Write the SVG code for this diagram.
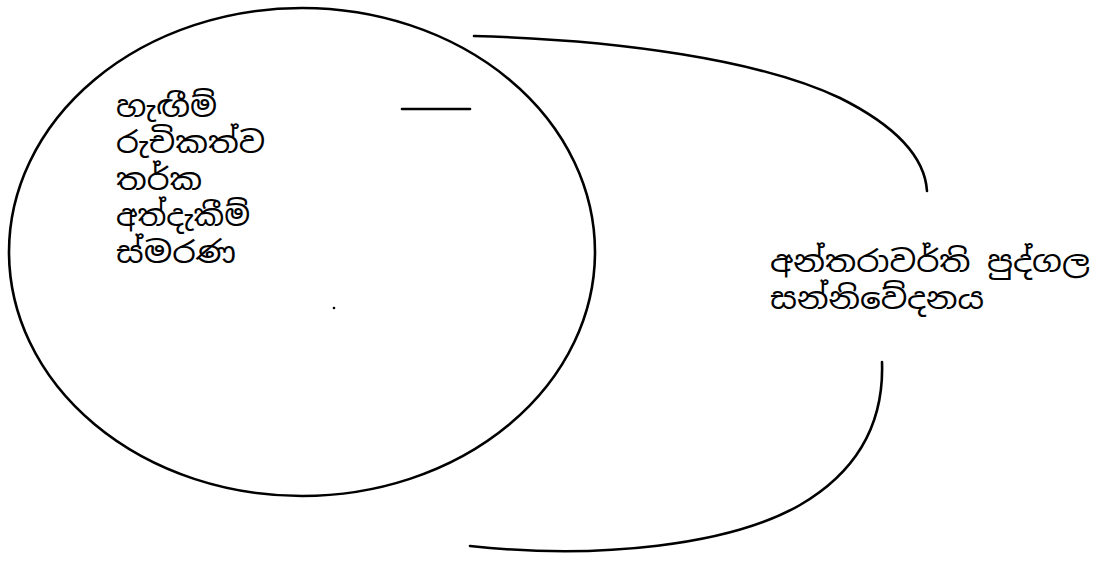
<svg xmlns="http://www.w3.org/2000/svg" width="1102" height="563" viewBox="0 0 1102 563">
<style>
.ln{fill:none;stroke:#000;stroke-width:2.6;stroke-linecap:round}
.tx{font-family:"Noto Sans Sinhala","Noto Serif Sinhala","Iskoola Pota","Noto Sans","DejaVu Sans",sans-serif;fill:#000}
.l{font-size:30px}
.r{font-size:30px}
</style>
<rect width="1102" height="563" fill="#fff"/>
<g id="mind">
<ellipse class="ln" cx="302" cy="252" rx="293" ry="244"/>
<circle cx="334" cy="308" r="1.3" fill="#000"/>
<text class="tx l" x="116" y="117" textLength="101" lengthAdjust="spacingAndGlyphs">හැඟීම්</text>
<text class="tx l" x="116" y="153" textLength="149" lengthAdjust="spacingAndGlyphs">රුචිකත්ව</text>
<text class="tx l" x="116" y="190" textLength="86" lengthAdjust="spacingAndGlyphs">තර්ක</text>
<text class="tx l" x="116" y="226" textLength="134" lengthAdjust="spacingAndGlyphs">අත්දැකීම්</text>
<text class="tx l" x="116" y="263" textLength="120" lengthAdjust="spacingAndGlyphs">ස්මරණ</text>
</g>
<g id="label">
<text class="tx r" x="770" y="272" textLength="320" lengthAdjust="spacingAndGlyphs">අන්තරාවර්ති පුද්ගල</text>
<text class="tx r" x="770" y="309" textLength="214" lengthAdjust="spacingAndGlyphs">සන්නිවේදනය</text>
</g>
<g id="connectors">
<line class="ln" x1="402" y1="109" x2="470" y2="109"/>
<path class="ln" d="M474,36 C620,40 760,60 840,98 C900,128 925,160 927,191"/>
<path class="ln" d="M882,362 C884,420 860,470 800,505 C730,545 600,560 470,546"/>
</g>
</svg>
